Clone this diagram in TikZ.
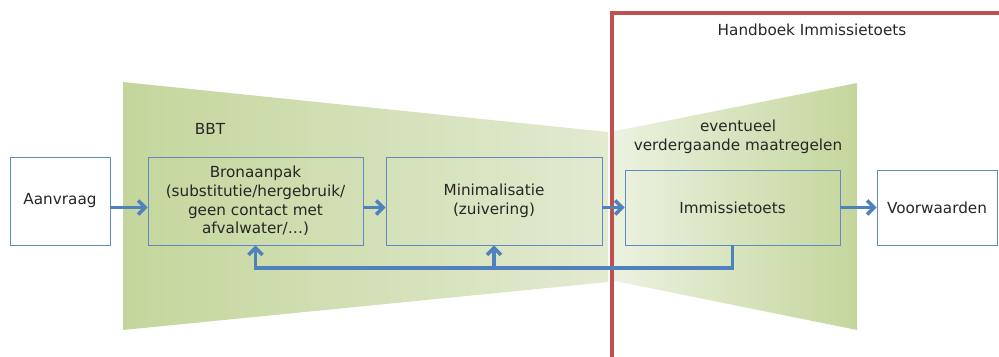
\documentclass[tikz,border=0pt]{standalone}
\usepackage{fontspec}
\setmainfont{DejaVu Sans}
\usetikzlibrary{arrows.meta}
\definecolor{bleu}{RGB}{79,129,189}
\definecolor{cadre}{RGB}{96,138,194}
\definecolor{vertfonce}{RGB}{196,214,156}
\definecolor{vertclair}{RGB}{226,234,208}
\definecolor{vertpale}{RGB}{236,242,225}
\definecolor{rouge}{RGB}{192,80,77}
\begin{document}
\begin{tikzpicture}[x=0.03cm,y=-0.03cm,
    boite/.style={draw=cadre,line width=0.7pt,align=center,text=black!85,
      font=\fontsize{13}{16}\selectfont},
    titre/.style={text=black!85,align=center,font=\fontsize{13}{16}\selectfont},
    fleche/.style={draw=bleu,line width=3pt,-{Straight Barb[length=6pt,width=12pt]}}]
  \useasboundingbox (0,0) rectangle (999,356);
  % les deux entonnoirs
  \shade[left color=vertfonce,right color=vertclair] (123,82) -- (608,132) -- (608,282) -- (123,330) -- cycle;
  \shade[left color=vertpale,right color=vertfonce] (610,132) -- (857,83) -- (857,330) -- (610,280) -- cycle;
  % cadre du handboek
  \draw[rouge,line width=3.2pt] (612,365) -- (612,13) -- (1010,13);
  \node[titre] (handboek) at (812,30) {Handboek Immissietoets};
  \node[titre] (bbt) at (210,129) {BBT};
  \node[titre] (eventueel) at (738,137) {eventueel\\verdergaande maatregelen};
  % les boites
  \node[boite,fill=white,minimum width=3cm,minimum height=2.64cm] (aanvraag) at (60,201) {Aanvraag};
  \node[boite,minimum width=6.45cm,minimum height=2.64cm] (bron) at (255.5,201)
    {Bronaanpak\\(substitutie/hergebruik/\\geen contact met\\afvalwater/\dots)};
  \node[boite,minimum width=6.48cm,minimum height=2.64cm] (mini) at (494,201) {Minimalisatie\\(zuivering)};
  \node[boite,minimum width=6.45cm,minimum height=2.25cm] (immis) at (732.5,207.5) {Immissietoets};
  \node[boite,fill=white,minimum width=3.6cm,minimum height=2.25cm] (voorw) at (937,207.5) {Voorwaarden};
  % fleches
  \draw[fleche] (aanvraag.east |- immis) -- (bron.west |- immis);
  \draw[fleche] (bron.east |- immis) -- (mini.west |- immis);
  \draw[fleche] (mini.east |- immis) -- (immis.west);
  \draw[fleche] (immis.east) -- (voorw.west);
  \coordinate (bas) at (0,268);
  \draw[fleche] (immis.south) |- (bron.south |- bas) -- (bron.south);
  \draw[fleche] (mini.south |- bas) -- (mini.south);
\end{tikzpicture}
\end{document}
